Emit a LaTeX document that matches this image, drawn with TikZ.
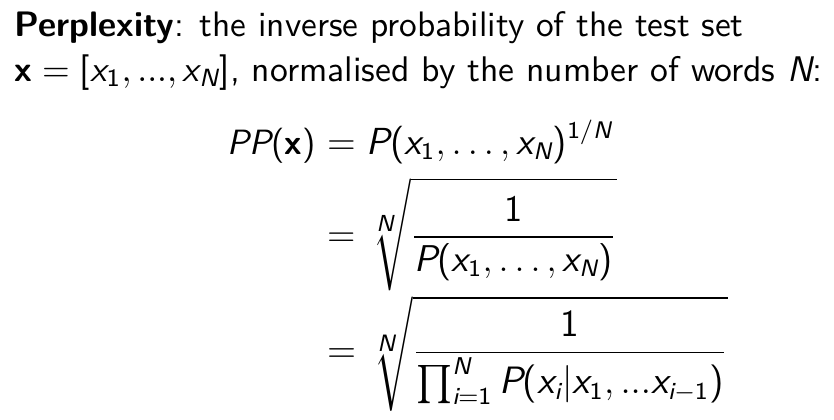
\documentclass[tikz,border=0pt]{standalone}
\usepackage{amsmath}
\DeclareFontShape{OMX}{cmex}{m}{n}{<-> cmex10}{}
\DeclareSymbolFont{operators}{TU}{lmss}{m}{n}
\DeclareMathAlphabet{\mathsfit}{TU}{lmss}{m}{sl}
\DeclareMathAlphabet{\mathbf}{TU}{lmss}{bx}{n}
\DeclareMathSizes{12.24}{12.24}{7.8}{7.6}
\newcommand\mx{\mathsfit{x}}
\newcommand\mP{\mathsfit{P}}
\newcommand\mN{\mathsfit{N}}
\newcommand\mi{\mathsfit{i}}
\tikzset{
  txt/.style={anchor=base west,inner sep=0pt,font=\sffamily\fontsize{10}{12}\selectfont},
  eqn/.style={anchor=base west,inner sep=0pt,font=\fontsize{12.24}{15}\selectfont}}
\begin{document}
\begin{tikzpicture}[x=0.34pt,y=-0.34pt]
\useasboundingbox (0,0) rectangle (834,419);
\node[txt] (l1) at (14,36) {\resizebox{247.86pt}{!}{\textbf{Perplexity}: the inverse probability of the test set}};
\node[txt] (l2) at (14,81) {\resizebox{274.72pt}{!}{$\mathbf{x}=[\mx_1,...,\mx_\mN]$, normalised by the number of words $\mN$:}};
\node[eqn] (lhs) at (227,154) {\resizebox{29.92pt}{!}{$\displaystyle \mP\mP(\mathbf{x})$}};
\node[eqn] (r1) at (327,154) {\resizebox{96.9pt}{!}{$\displaystyle = \mP(\mx_1,\ldots,\mx_\mN)^{1/\mN}$}};
\node[eqn] (r2) at (327,246) {\resizebox{98.26pt}{!}{$\displaystyle = \sqrt[\mN]{\frac{1}{\mP(\mx_1,\ldots,\mx_\mN)}}$}};
\node[eqn] (r3) at (327,362) {\resizebox{136pt}{!}{$\displaystyle = \sqrt[\mN]{\frac{1}{\prod_{\mi=1}^{\mN}\mP(\mx_\mi|\mx_1,...\mx_{\mi-1})}}$}};
\end{tikzpicture}
\end{document}
